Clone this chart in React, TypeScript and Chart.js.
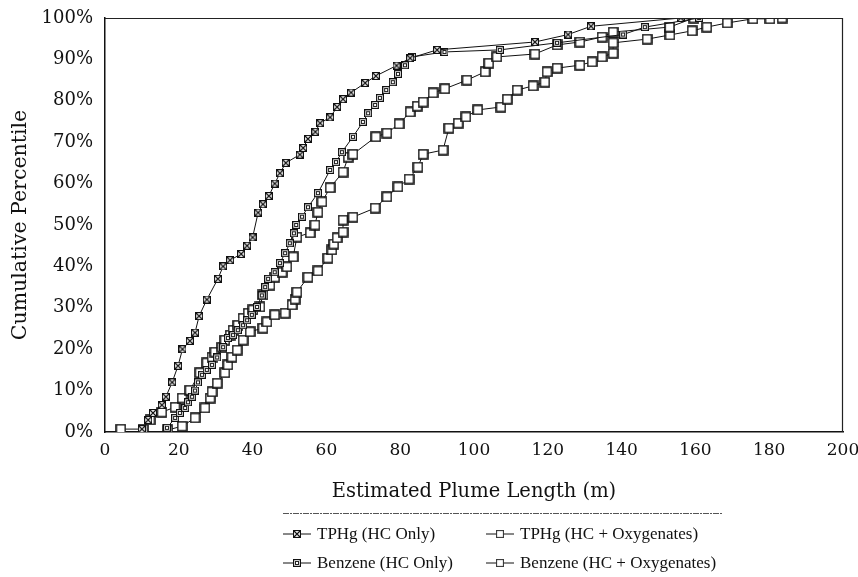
import React, { useEffect, useRef } from "react";
import { Chart, registerables } from "chart.js";
Chart.register(...registerables);

const FONT = '"Liberation Serif", "Times New Roman", serif';
const AXFONT = '"DejaVu Serif", "Liberation Serif", serif';

const seriesLabels = [
  "TPHg (HC Only)",
  "Benzene (HC Only)",
  "TPHg (HC + Oxygenates)",
  "Benzene (HC + Oxygenates)",
];

const tphgHcX = [10, 11.7, 13, 15.4, 16.5, 18.2, 19.8, 21, 23, 24.4, 25.5, 27.6, 30.6, 32, 33.9, 36.9, 38.5, 40, 41.5, 42.8, 44.4, 46, 47.4, 49, 52.8, 53.7, 55, 57, 58.3, 61, 62.9, 64.5, 66.7, 70.5, 73.4, 79, 82.7, 90, 116.5, 125.5, 131.7, 156];
const tphgHcY = [0.7, 2.9, 4.6, 6.5, 8.5, 12, 16, 20, 22, 24, 28, 32, 37, 40, 41.5, 43, 45, 47, 53, 55, 57, 60, 62.5, 65, 67, 68.6, 70.8, 72.5, 74.6, 76, 78.5, 80.4, 82, 84.3, 86, 88.5, 90.3, 92.3, 94.2, 96, 98, 100];

const benzHcX = [16.8, 19, 20.3, 21.7, 22.5, 23.6, 24.4, 25.2, 26.3, 27.6, 29, 30.4, 32, 33.3, 34.7, 36, 37.4, 38.5, 39.8, 41.2, 42.5, 43.4, 44.2, 46, 47.4, 48.8, 50.1, 51.2, 51.8, 53.4, 55, 57.7, 61, 62.6, 64.2, 67.2, 69.9, 71.3, 73.2, 74.5, 76.2, 78, 79.4, 81.3, 83.2, 92, 107, 122.5, 140.4, 146.3, 161];
const benzHcY = [1, 3.4, 4.6, 5.8, 7.2, 8.5, 10, 12, 13.8, 15, 16.2, 18, 20.5, 22.7, 23.4, 24.6, 25.8, 27, 28.3, 30.2, 33, 35, 37, 38.6, 40.8, 43.2, 45.6, 48, 50, 52, 54.3, 57.7, 63.3, 65.2, 67.6, 71.3, 74.9, 77, 79, 80.7, 82.6, 84.5, 86.5, 88.6, 90.6, 91.8, 92.3, 94, 96, 97.8, 100];

const tphgOxyX = [4.3, 10.3, 12.2, 15.4, 19, 20.9, 23, 25.7, 27.6, 29, 29.8, 31.7, 32.5, 33.9, 34.7, 36, 37.4, 38.8, 40.1, 42, 42.8, 44.7, 46, 48, 49.3, 51, 52, 55.6, 56.9, 57.7, 58.8, 61, 64.5, 65.9, 67.2, 73.4, 76.4, 79.7, 82.7, 84.6, 86.2, 88.9, 92.1, 98.1, 103, 104, 106.2, 116.5, 122.5, 128.7, 134.7, 137.7, 153, 159.6];
const tphgOxyY = [0.7, 0.7, 2.9, 4.8, 6, 8.2, 10.1, 14.3, 16.7, 18.1, 19.3, 20.5, 22.2, 23.4, 24.6, 25.8, 27.5, 28.7, 29.5, 30.2, 33.1, 35.5, 37.4, 38.6, 39.9, 42.3, 47.1, 48.1, 50, 53.1, 55.6, 59, 62.8, 66.4, 67.1, 71.3, 72.2, 74.4, 77.3, 78.7, 79.7, 81.9, 82.9, 85, 87, 89.1, 90.6, 91.3, 93.5, 94.2, 95.4, 96.6, 97.8, 100];

const benzOxyX = [17, 20.9, 24.4, 27.1, 28.5, 29, 30.4, 32.5, 33.3, 34.4, 35.8, 37.4, 39.3, 42.8, 43.9, 46, 48.8, 50.7, 51.5, 52, 55, 57.7, 60.4, 61.5, 62, 62.9, 64.5, 64.5, 67.2, 73.2, 76.4, 79.4, 82.4, 84.8, 86.2, 91.6, 93.2, 95.7, 97.8, 101, 107.3, 109, 111.7, 116, 119.2, 119.8, 122.5, 128.7, 132, 134.7, 137.7, 137.7, 146.9, 153.1, 159.1, 163.1, 168.6, 175.6, 180.2, 183.5];
const benzOxyY = [0.5, 1.4, 3.4, 5.8, 8.2, 9.7, 11.8, 14.3, 16.2, 18.1, 19.8, 22.2, 24.2, 25.1, 26.6, 28.3, 28.7, 30.7, 32.1, 33.8, 37.4, 38.9, 42, 44, 45.4, 46.9, 48.3, 51.2, 51.9, 54.1, 56.8, 59.2, 61.1, 64, 67.1, 68.1, 73.4, 74.6, 76.1, 77.8, 78.5, 80.4, 82.6, 83.6, 84.5, 87, 87.9, 88.6, 89.4, 90.6, 91.5, 94, 94.9, 95.9, 96.9, 97.8, 98.8, 99.8, 99.8, 100];

const xMin = 0, xMax = 200, xStep = 20;
const yMin = 0, yMax = 100, yStep = 10;
const xTitle = "Estimated Plume Length (m)";
const yTitle = "Cumulative Percentile";

function makeMarker(kind: string): HTMLCanvasElement {
  const c = document.createElement("canvas");
  const s = kind === "open" ? 11 : 8;
  c.width = s; c.height = s;
  const g = c.getContext("2d")!;
  g.fillStyle = "#fff";
  g.strokeStyle = "#111";
  if (kind === "open") {
    g.lineWidth = 1.6;
    g.fillRect(1, 1, s - 2, s - 2);
    g.strokeRect(1, 1, s - 2, s - 2);
  } else if (kind === "cross") {
    g.lineWidth = 1.2;
    g.fillRect(0.5, 0.5, s - 1, s - 1);
    g.strokeRect(0.5, 0.5, s - 1, s - 1);
    g.beginPath();
    g.moveTo(1, 1); g.lineTo(s - 1, s - 1);
    g.moveTo(s - 1, 1); g.lineTo(1, s - 1);
    g.stroke();
  } else {
    g.lineWidth = 1.4;
    g.fillRect(0.5, 0.5, s - 1, s - 1);
    g.strokeRect(0.5, 0.5, s - 1, s - 1);
    g.fillStyle = "#222";
    g.fillRect(2, 2, s - 4, s - 4);
    g.fillStyle = "#fff";
    g.fillRect(3, 3, 2, 2);
  }
  return c;
}

function toPoints(xs: number[], ys: number[]) {
  return xs.map((x, i) => ({ x, y: ys[i] }));
}

export default function App() {
  const ref = useRef<HTMLCanvasElement | null>(null);
  useEffect(() => {
    if (!ref.current) return;
    const markers = [makeMarker("cross"), makeMarker("dark"), makeMarker("open"), makeMarker("open")];
    const raw = [
      [tphgHcX, tphgHcY],
      [benzHcX, benzHcY],
      [tphgOxyX, tphgOxyY],
      [benzOxyX, benzOxyY],
    ];
    const datasets = raw.map(([xs, ys], i) => ({
      label: seriesLabels[i],
      data: toPoints(xs, ys),
      borderColor: "#111",
      backgroundColor: "#fff",
      borderWidth: 1,
      pointStyle: markers[i] as any,
      pointRadius: 5,
      tension: 0,
      order: i < 2 ? 0 : 1,
    }));

    const frame = {
      id: "frame",
      afterDatasetsDraw(chart: any) {
        const { ctx, chartArea: a } = chart;
        ctx.save();
        ctx.strokeStyle = "#222";
        ctx.lineWidth = 1.2;
        ctx.beginPath();
        ctx.moveTo(a.left, a.top + 0.5);
        ctx.lineTo(a.right - 0.5, a.top + 0.5);
        ctx.lineTo(a.right - 0.5, a.bottom);
        ctx.stroke();
        ctx.restore();
      },
      afterDraw(chart: any) {
        const { ctx } = chart;
        ctx.save();
        ctx.strokeStyle = "#555";
        ctx.lineWidth = 1;
        ctx.setLineDash([6, 1, 2, 1]);
        ctx.beginPath();
        ctx.moveTo(283, 513.5);
        ctx.lineTo(722, 513.5);
        ctx.stroke();
        ctx.setLineDash([]);
        const pos = [
          [283, 534],
          [283, 563],
          [486, 534],
          [486, 563],
        ];
        ctx.font = `17px ${FONT}`;
        ctx.textBaseline = "middle";
        ctx.fillStyle = "#111";
        chart.data.datasets.forEach((ds: any, i: number) => {
          const [x, y] = pos[i];
          ctx.strokeStyle = "#111";
          ctx.lineWidth = 1;
          ctx.beginPath();
          ctx.moveTo(x, y);
          ctx.lineTo(x + 28, y);
          ctx.stroke();
          const m = ds.pointStyle as HTMLCanvasElement;
          const sc = i < 2 ? 1 : 0.8;
          ctx.drawImage(m, x + 14 - (m.width * sc) / 2, y - (m.height * sc) / 2, m.width * sc, m.height * sc);
          ctx.fillText(ds.label, x + 34, y + 1);
        });
        ctx.restore();
      },
    };

    const chart = new Chart(ref.current, {
      type: "line",
      data: { datasets },
      options: {
        animation: false,
        responsive: false,
        maintainAspectRatio: false,
        layout: { padding: { left: 0, top: 18, right: 15, bottom: 69 } },
        plugins: { legend: { display: false }, tooltip: { enabled: false } },
        scales: {
          x: {
            type: "linear",
            min: xMin,
            max: xMax,
            afterFit: (s: any) => { s.height = 76; s.paddingLeft = 0; s.paddingRight = 0; },
            ticks: { stepSize: xStep, color: "#111", font: { family: AXFONT, size: 17 }, padding: 8, maxRotation: 0 },
            grid: { display: false, drawTicks: false },
            border: { display: true, color: "#111", width: 1.5 },
            title: { display: true, text: xTitle, color: "#111", font: { family: AXFONT, size: 19.5 }, padding: { top: 4, bottom: 4 } },
          },
          y: {
            type: "linear",
            min: yMin,
            max: yMax,
            afterFit: (s: any) => { s.width = 105; s.paddingTop = 0; s.paddingBottom = 0; },
            ticks: { stepSize: yStep, color: "#111", font: { family: AXFONT, size: 18 }, padding: 12, callback: (v: any) => `${v}%` },
            grid: { display: false, drawTicks: false },
            border: { display: true, color: "#111", width: 1.5 },
            title: { display: true, text: yTitle, color: "#111", font: { family: AXFONT, size: 20.5 }, padding: { top: 8, bottom: 4 } },
          },
        },
      },
      plugins: [frame],
    });
    return () => chart.destroy();
  }, []);

  return (
    <div style={{ position: "fixed", left: 0, top: 0, width: 858, height: 577, background: "#fff" }}>
      <canvas ref={ref} width={858} height={577} />
    </div>
  );
}
